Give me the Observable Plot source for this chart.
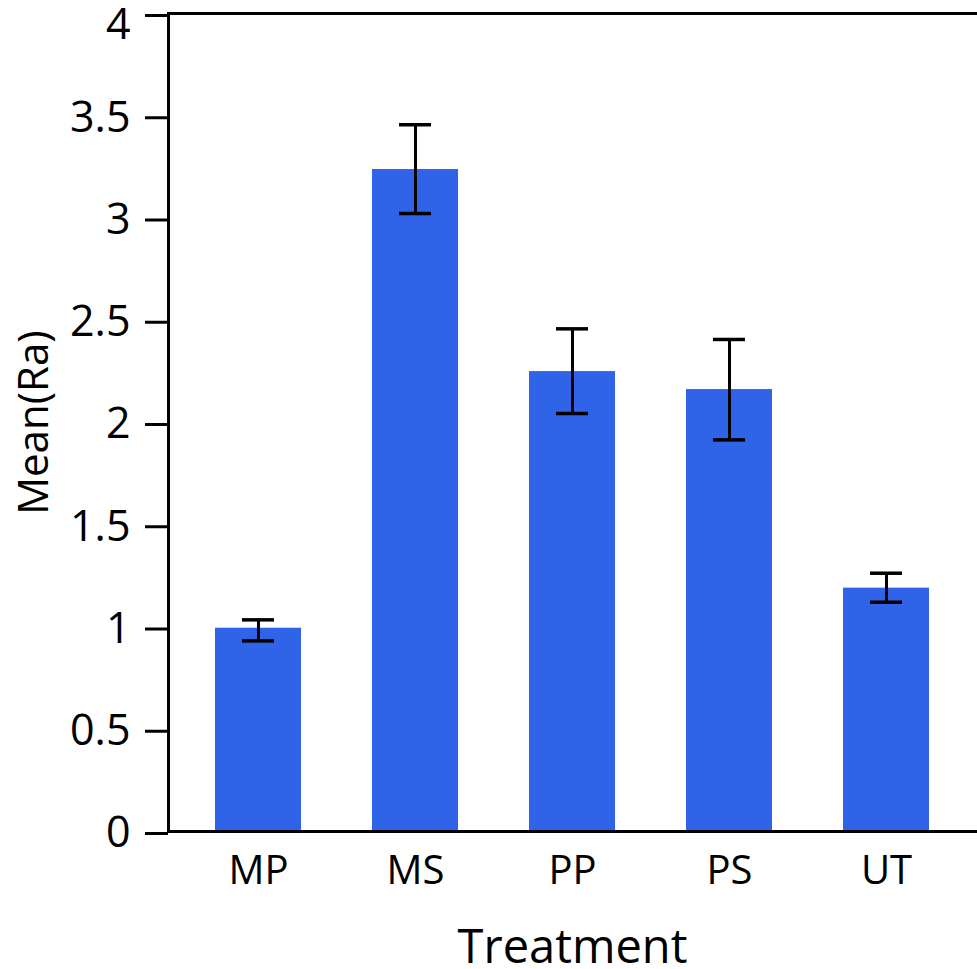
<!DOCTYPE html>
<html>
<head>
<meta charset="utf-8">
<script src="https://cdn.jsdelivr.net/npm/d3@7"></script>
<script src="https://cdn.jsdelivr.net/npm/@observablehq/plot@0.6"></script>
<style>
  html, body { margin: 0; padding: 0; background: #fff; }
  #chart svg { display: block; }
</style>
</head>
<body>
<div id="chart"></div>
<script>
const treatments = ["MP", "MS", "PP", "PS", "UT"];
const means      = [0.994, 3.237, 2.249, 2.161, 1.190];
const lower      = [0.932, 3.022, 2.044, 1.915, 1.121];
const upper      = [1.035, 3.456, 2.458, 2.406, 1.263];
const yTicks     = [0, 0.5, 1, 1.5, 2, 2.5, 3, 3.5, 4];
const yTopTick   = [4];
const xTitle = "Treatment";
const yTitle = "Mean(Ra)";

const data = treatments.map((t, i) => ({treatment: t, mean: means[i], lo: lower[i], hi: upper[i]}));

const font = "'Open Sans', sans-serif";
const barColor = "#2F63E8";

const plot = Plot.plot({
  width: 977,
  height: 969,
  marginLeft: 168,
  marginRight: 1,
  marginTop: 13,
  marginBottom: 138,
  style: {fontFamily: font, background: "#fff", color: "#000"},
  x: {domain: treatments, paddingInner: 0.45, paddingOuter: 0.29, label: null},
  y: {domain: [0, 4], label: null},
  marks: [
    Plot.barY(data, {x: "treatment", y: "mean", fill: barColor}),
    Plot.ruleX(data, {x: "treatment", y1: "lo", y2: "hi", stroke: "#000", strokeWidth: 3}),
    Plot.tickY(data, {x: "treatment", y: "lo", stroke: "#000", strokeWidth: 3.5, insetLeft: 27, insetRight: 27}),
    Plot.tickY(data, {x: "treatment", y: "hi", stroke: "#000", strokeWidth: 3.5, insetLeft: 27, insetRight: 27}),
    Plot.frame({anchor: "left", stroke: "#000", strokeWidth: 3}),
    Plot.frame({anchor: "top", stroke: "#000", strokeWidth: 3}),
    Plot.frame({anchor: "bottom", stroke: "#000", strokeWidth: 3}),
    Plot.axisY(yTicks, {tickSize: 23, tickPadding: 15, strokeWidth: 3, fontSize: 43, dy: 2, label: null,
      tickFormat: d => (yTopTick.includes(d) ? "" : String(d)), fill: "#000", stroke: "#000"}),
    Plot.text(yTopTick, {y: d => d, text: d => String(d), frameAnchor: "left", dx: -38, dy: 12,
      textAnchor: "end", lineAnchor: "middle", fontSize: 43, fill: "#000"}),
    Plot.axisX({tickSize: 0, tickPadding: 24, fontSize: 40, label: null, fill: "#000"}),
    Plot.text([xTitle], {frameAnchor: "bottom", dy: 116, textAnchor: "middle", lineAnchor: "middle",
      fontSize: 47, fill: "#000", text: d => d}),
    Plot.text([yTitle], {frameAnchor: "left", dx: -134, rotate: -90, textAnchor: "middle", lineAnchor: "middle",
      fontSize: 42, fill: "#000", text: d => d})
  ]
});

document.getElementById("chart").appendChild(plot);
</script>
</body>
</html>
